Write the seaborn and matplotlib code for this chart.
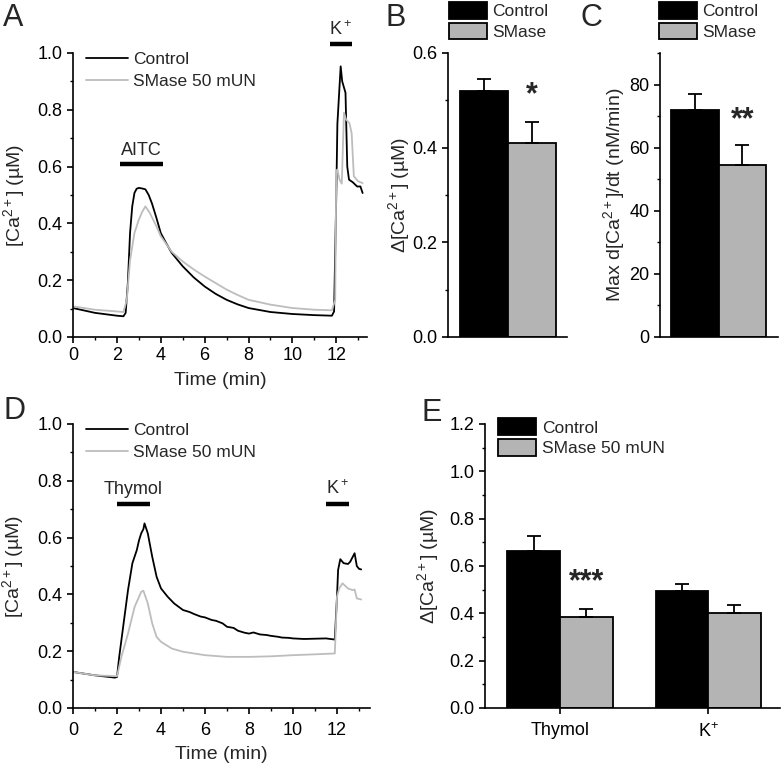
import matplotlib
matplotlib.use("Agg")
import matplotlib.pyplot as plt
from matplotlib.ticker import MultipleLocator, FormatStrFormatter
from matplotlib.patches import Patch
from matplotlib.lines import Line2D
import seaborn as sns
import pandas as pd

# ---- data ----
# panel A: AITC traces
a_ctrl_t = [0, 1, 2, 2.3, 2.4, 2.5, 2.6, 2.7, 2.8, 2.9, 3.0, 3.15, 3.3, 3.45, 3.6, 3.8, 4.0, 4.25, 4.5,
            5, 5.5, 6, 6.5, 7, 7.5, 8, 9, 10, 11, 11.8, 11.9, 12.0, 12.05, 12.2, 12.27, 12.42, 12.5,
            12.58, 12.75, 12.95, 13.1, 13.2]
a_ctrl = [0.102, 0.085, 0.075, 0.073, 0.085, 0.19, 0.366, 0.46, 0.507, 0.522, 0.525, 0.523, 0.52, 0.5,
          0.47, 0.42, 0.366, 0.33, 0.296, 0.249, 0.21, 0.178, 0.152, 0.131, 0.115, 0.102, 0.088, 0.081,
          0.077, 0.075, 0.09, 0.5, 0.75, 0.953, 0.90, 0.86, 0.60, 0.554, 0.545, 0.53, 0.53, 0.507]
a_smase_t = [0, 1, 2, 2.3, 2.45, 2.6, 2.8, 3.0, 3.15, 3.3, 3.5, 3.8, 4.0, 4.5, 5, 5.5, 6, 6.5, 7, 7.5, 8,
             9, 10, 11, 11.8, 11.95, 12.0, 12.05, 12.15, 12.25, 12.35, 12.45, 12.6, 12.7, 12.8, 13.0, 13.2]
a_smase = [0.108, 0.096, 0.09, 0.088, 0.13, 0.27, 0.366, 0.413, 0.44, 0.46, 0.437, 0.39, 0.355, 0.30,
           0.266, 0.238, 0.213, 0.19, 0.167, 0.148, 0.131, 0.114, 0.102, 0.096, 0.094, 0.13, 0.58, 0.59,
           0.554, 0.54, 0.79, 0.765, 0.753, 0.718, 0.566, 0.548, 0.542]

# panel D: thymol traces
d_ctrl_t = [0, 1, 1.9, 2.0, 2.1, 2.3, 2.5, 2.7, 2.9, 3.0, 3.1, 3.2, 3.25, 3.4, 3.6, 3.8, 4.0, 4.3, 4.6,
            5, 5.3, 5.5, 5.8, 6, 6.3, 6.5, 6.8, 7, 7.3, 7.5, 7.8, 8, 8.2, 8.5, 8.8, 9, 9.3, 9.5, 9.8, 10,
            10.5, 11, 11.5, 11.9, 12.0, 12.05, 12.15, 12.3, 12.5, 12.6, 12.8, 12.9, 13.0, 13.1]
d_ctrl = [0.127, 0.115, 0.107, 0.109, 0.18, 0.298, 0.415, 0.51, 0.556, 0.59, 0.615, 0.63, 0.65, 0.615,
          0.533, 0.462, 0.421, 0.392, 0.368, 0.345, 0.338, 0.331, 0.322, 0.319, 0.31, 0.307, 0.298,
          0.286, 0.282, 0.272, 0.265, 0.262, 0.266, 0.259, 0.257, 0.254, 0.251, 0.248, 0.247, 0.245,
          0.243, 0.244, 0.245, 0.241, 0.392, 0.486, 0.524, 0.51, 0.507, 0.515, 0.545, 0.50, 0.49, 0.488]
d_smase_t = [0, 1, 2.0, 2.2, 2.5, 2.8, 3.1, 3.2, 3.4, 3.6, 3.8, 4.0, 4.5, 5, 6, 7, 8, 9, 10, 11, 11.9,
             12.0, 12.1, 12.25, 12.5, 12.7, 12.8, 12.9, 13.1]
d_smase = [0.127, 0.115, 0.112, 0.18, 0.262, 0.356, 0.409, 0.413, 0.368, 0.298, 0.25, 0.233, 0.209,
           0.198, 0.186, 0.18, 0.18, 0.182, 0.186, 0.189, 0.192, 0.392, 0.421, 0.439, 0.421, 0.415,
           0.417, 0.386, 0.382]

# stimulus bars (start, end, label)
a_stims = [(2.15, 4.1, "AITC"), (11.7, 12.7, "K$^+$")]
d_stims = [(2.0, 3.5, "Thymol"), (11.5, 12.55, "K$^+$")]

# panel B / C summary bars
groups_bc = ["Control", "SMase"]
b_mean = [0.52, 0.41]
b_sem = [0.025, 0.045]
c_mean = [72.0, 54.5]
c_sem = [5.0, 6.5]

# panel E summary bars
e_stimuli = ["Thymol", "K$^{+}$"]
e_groups = ["Control", "SMase 50 mUN"]
e_mean_ctrl = [0.665, 0.495]
e_sem_ctrl = [0.06, 0.03]
e_mean_smase = [0.385, 0.40]
e_sem_smase = [0.035, 0.035]

BLACK = "#000000"
GRAY_LINE = "#bdbdbd"
GRAY_BAR = "#b4b4b4"

sns.set_style("ticks")
plt.rcParams.update({
    "font.family": ["Liberation Sans", "DejaVu Sans"],
    "mathtext.fontset": "custom",
    "mathtext.rm": "Liberation Sans",
    "mathtext.it": "Liberation Sans:italic",
    "axes.linewidth": 1.2,
    "xtick.major.width": 1.2,
    "ytick.major.width": 1.2,
    "xtick.minor.width": 1.0,
    "ytick.minor.width": 1.0,
    "xtick.major.size": 4,
    "ytick.major.size": 4,
    "xtick.minor.size": 2.5,
    "ytick.minor.size": 2.5,
    "xtick.direction": "out",
    "ytick.direction": "out",
    "xtick.labelsize": 13,
    "ytick.labelsize": 13,
    "axes.labelsize": 14,
    "xtick.color": "black",
    "ytick.color": "black",
    "axes.edgecolor": "black",
})

W, H = 783, 768
fig = plt.figure(figsize=(W / 100, H / 100), dpi=100)


def px_axes(left, top, right, bottom):
    return fig.add_axes([left / W, 1 - bottom / H, (right - left) / W, (bottom - top) / H])


def style(ax):
    sns.despine(ax=ax)
    ax.tick_params(which="both", colors="black")


def trace_panel(ax, ctrl_t, ctrl, sm_t, sm, stims, stim_y, xmax, xlabel_y):
    sns.lineplot(x=ctrl_t, y=ctrl, color=BLACK, lw=1.3, ax=ax)
    sns.lineplot(x=sm_t, y=sm, color=GRAY_LINE, lw=1.3, ax=ax)
    ax.set_xlim(0, xmax)
    ax.set_ylim(0, 1.0)
    ax.xaxis.set_major_locator(MultipleLocator(2))
    ax.xaxis.set_minor_locator(MultipleLocator(1))
    ax.yaxis.set_major_locator(MultipleLocator(0.2))
    ax.yaxis.set_minor_locator(MultipleLocator(0.1))
    ax.yaxis.set_major_formatter(FormatStrFormatter("%.1f"))
    ax.set_xlabel("Time (min)", va="top")
    ax.set_ylabel("[Ca$^{2+}$] (µM)")
    ax.yaxis.set_label_coords(-0.158, 0.5)
    ax.xaxis.set_label_coords(0.5, xlabel_y)
    for (s, e, lab), y in zip(stims, stim_y):
        ax.plot([s, e], [y, y], color=BLACK, lw=3.2, solid_capstyle="butt", clip_on=False)
        ax.text((s + e) / 2, y + 0.018, lab, ha="center", va="bottom", fontsize=13)
    handles = [Line2D([], [], color=BLACK, lw=1.3), Line2D([], [], color=GRAY_LINE, lw=1.3)]
    ax.legend(handles, ["Control", "SMase 50 mUN"], loc="upper left",
              bbox_to_anchor=(0.045, 1.005), frameon=False, fontsize=12.5,
              handlelength=2.4, handletextpad=0.3, labelspacing=0.42, borderpad=0,
              borderaxespad=0)
    style(ax)


def bar_panel(ax, cats, hues, means, sems, width):
    df = pd.DataFrame({"cat": cats, "grp": hues, "val": means})
    sns.barplot(data=df, x="cat", y="val", hue="grp", hue_order=list(dict.fromkeys(hues)),
                palette=[BLACK, GRAY_BAR], width=width, errorbar=None, legend=False,
                edgecolor=BLACK, linewidth=1.3, saturation=1, ax=ax)
    bars = [p for c in ax.containers for p in c.patches]
    for p, m, s in zip(bars, means, sems):
        xc = p.get_x() + p.get_width() / 2
        ax.errorbar([xc], [m], yerr=[[0], [s]], fmt="none", ecolor=BLACK,
                    elinewidth=1.3, capsize=5, capthick=1.3)
    ax.set_xlabel("")
    style(ax)
    return bars


def patch_legend(ax, labels, anchor):
    handles = [Patch(facecolor=BLACK, edgecolor=BLACK, lw=1.3),
               Patch(facecolor=GRAY_BAR, edgecolor=BLACK, lw=1.3)]
    ax.legend(handles, labels, loc="upper left", bbox_to_anchor=anchor, frameon=False,
              fontsize=12.5, handlelength=2.2, handleheight=1.1, handletextpad=0.3,
              labelspacing=0.2, borderpad=0, borderaxespad=0)


# ---- panel A ----
axA = px_axes(73, 53, 367, 337)
trace_panel(axA, a_ctrl_t, a_ctrl, a_smase_t, a_smase, a_stims, [0.61, 1.03], 13.4, -0.125)

# ---- panel D ----
axD = px_axes(73, 424, 370, 708)
trace_panel(axD, d_ctrl_t, d_ctrl, d_smase_t, d_smase, d_stims, [0.72, 0.72], 13.5, -0.135)
axD.tick_params(axis="x", pad=6)

# ---- panel B ----
axB = px_axes(448, 53, 567, 337)
bar_panel(axB, ["x", "x"], groups_bc, b_mean, b_sem, 0.8)
axB.set_ylim(0, 0.6)
axB.set_xlim(-0.50, 0.49)
axB.set_xticks([])
axB.yaxis.set_major_locator(MultipleLocator(0.2))
axB.yaxis.set_minor_locator(MultipleLocator(0.1))
axB.yaxis.set_major_formatter(FormatStrFormatter("%.1f"))
axB.set_ylabel("Δ[Ca$^{2+}$] (µM)")
axB.yaxis.set_label_coords(-0.3, 0.5)
axB.text(0.2, 0.48, "*", ha="center", va="bottom", fontsize=22, fontweight="bold")
patch_legend(axB, groups_bc, (0.008, 1.18))

# ---- panel C ----
axC = px_axes(660, 53, 778, 337)
bar_panel(axC, ["x", "x"], groups_bc, c_mean, c_sem, 0.8)
axC.set_ylim(0, 90)
axC.set_xlim(-0.493, 0.50)
axC.set_xticks([])
axC.yaxis.set_major_locator(MultipleLocator(20))
axC.yaxis.set_minor_locator(MultipleLocator(10))
axC.set_ylabel("Max d[Ca$^{2+}$]/dt (nM/min)")
axC.yaxis.set_label_coords(-0.28, 0.5)
axC.text(0.2, 64, "**", ha="center", va="bottom", fontsize=22, fontweight="bold")
patch_legend(axC, groups_bc, (-0.008, 1.18))

# ---- panel E ----
axE = px_axes(485, 424, 780, 708)
bar_panel(axE, e_stimuli * 2, [e_groups[0]] * 2 + [e_groups[1]] * 2,
          e_mean_ctrl + e_mean_smase, e_sem_ctrl + e_sem_smase, 0.71)
axE.set_ylim(0, 1.2)
axE.set_xlim(-0.507, 1.486)
axE.yaxis.set_major_locator(MultipleLocator(0.2))
axE.yaxis.set_minor_locator(MultipleLocator(0.1))
axE.yaxis.set_major_formatter(FormatStrFormatter("%.1f"))
axE.set_ylabel("Δ[Ca$^{2+}$] (µM)")
axE.yaxis.set_label_coords(-0.149, 0.5)
axE.tick_params(axis="x", labelsize=13, pad=6)
axE.text(0.177, 0.47, "***", ha="center", va="bottom", fontsize=22, fontweight="bold")
patch_legend(axE, e_groups, (0.045, 1.02))

# ---- panel letters ----
for lab, x, y in [("A", 3, 3), ("B", 386, 3), ("C", 581, 3), ("D", 3, 396), ("E", 421, 398)]:
    fig.text(x / W, 1 - y / H, lab, fontsize=22, ha="left", va="top")

fig.savefig("out.png", dpi=100)
